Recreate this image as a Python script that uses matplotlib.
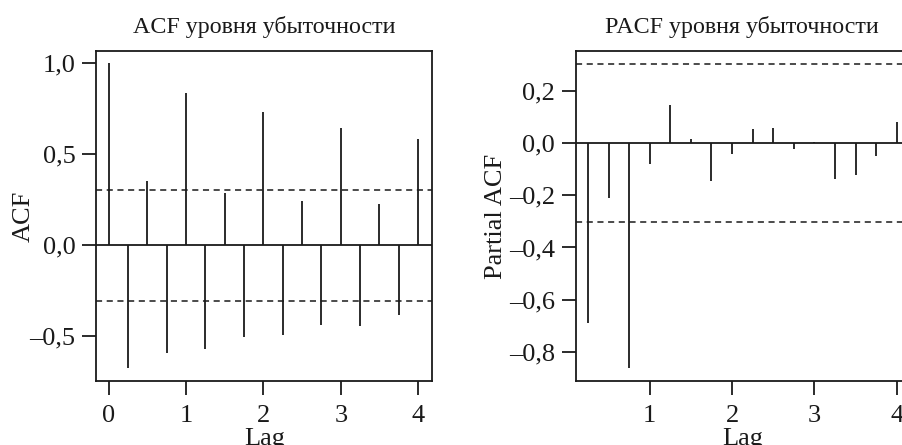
import numpy as np
import matplotlib
matplotlib.use('Agg')
import matplotlib.pyplot as plt

plt.rcParams['font.family'] = ['Liberation Serif', 'DejaVu Serif']

# quarterly lags, ACF from lag 0, PACF from lag 0.25
acf_lags = [0, 0.25, 0.5, 0.75, 1, 1.25, 1.5, 1.75, 2, 2.25, 2.5, 2.75, 3, 3.25, 3.5, 3.75, 4]
acf_vals = [1.0, -0.676, 0.353, -0.590, 0.839, -0.571, 0.289, -0.504, 0.733,
            -0.491, 0.242, -0.438, 0.647, -0.445, 0.229, -0.385, 0.586]

pacf_lags = [0.25, 0.5, 0.75, 1, 1.25, 1.5, 1.75, 2, 2.25, 2.5, 2.75, 3, 3.25, 3.5, 3.75, 4]
pacf_vals = [-0.688, -0.211, -0.862, -0.082, 0.145, 0.017, -0.146, -0.041, 0.054,
             0.059, -0.022, 0.005, -0.138, -0.124, -0.050, 0.080]

ci = 0.304

acf_yticks = [-0.5, 0.0, 0.5, 1.0]
acf_ylabels = ['–0,5', '0,0', '0,5', '1,0']
acf_xticks = [0, 1, 2, 3, 4]

pacf_yticks = [-0.8, -0.6, -0.4, -0.2, 0.0, 0.2]
pacf_ylabels = ['–0,8', '–0,6', '–0,4', '–0,2', '0,0', '0,2']
pacf_xticks = [1, 2, 3, 4]

col = '#1a1a1a'
lw = 1.3

fig = plt.figure(figsize=(9.03, 4.45), dpi=100)
ax1 = fig.add_axes([0.1067, 0.1438, 0.3718, 0.7416])
ax2 = fig.add_axes([0.6375, 0.1438, 0.3692, 0.7416])


def draw_corr(ax, lags, vals, title, ylabel, yticks, ylabels, xticks, xlim, ylim, ypad):
    ax.vlines(lags, 0, vals, colors=col, linewidth=lw)
    ax.axhline(0, color=col, linewidth=lw)
    for c in (ci, -ci):
        ax.axhline(c, color=col, linewidth=1.1, linestyle=(0, (4, 3)))
    ax.set_xlim(xlim)
    ax.set_ylim(ylim)
    ax.set_yticks(yticks)
    ax.set_yticklabels(ylabels)
    ax.set_xticks(xticks)
    ax.tick_params(direction='out', length=10, width=lw, colors=col,
                   labelsize=19, pad=5)
    ax.tick_params(axis='x', pad=7)
    for s in ax.spines.values():
        s.set_linewidth(lw)
        s.set_color(col)
    ax.set_title(title, fontsize=17.3, pad=13, color=col)
    ax.set_xlabel('Lag', fontsize=19, labelpad=1, color=col)
    ax.set_ylabel(ylabel, fontsize=19, labelpad=ypad, color=col)


draw_corr(ax1, acf_lags, acf_vals, 'ACF уровня убыточности', 'ACF',
          acf_yticks, acf_ylabels, acf_xticks, (-0.16, 4.18), (-0.745, 1.068), -4)
draw_corr(ax2, pacf_lags, pacf_vals, 'PACF уровня убыточности', 'Partial ACF',
          pacf_yticks, pacf_ylabels, pacf_xticks, (0.1, 4.15), (-0.911, 0.352), 1)

fig.savefig('out.png', dpi=100)
